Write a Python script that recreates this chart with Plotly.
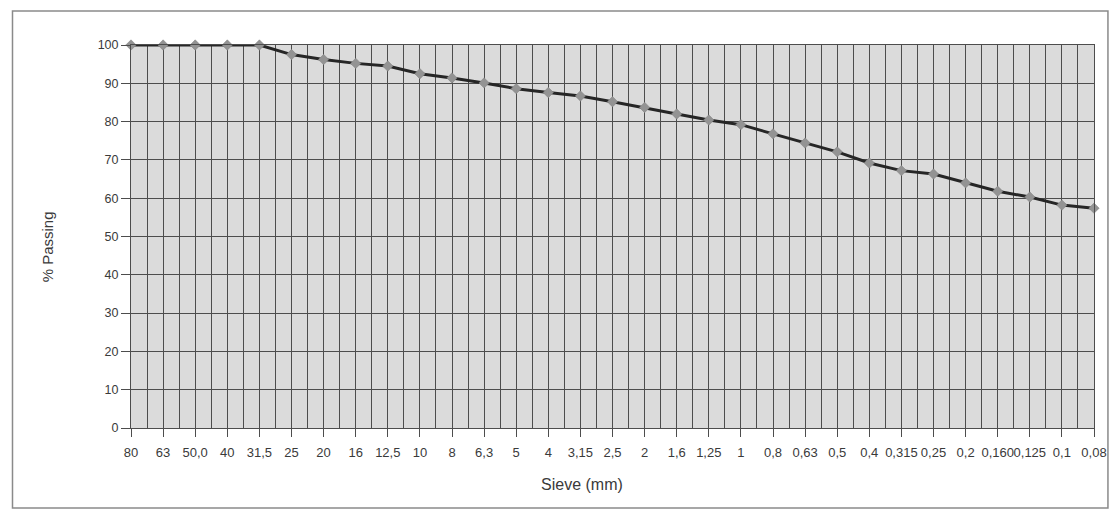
import plotly.graph_objects as go

# Sieve sizes (mm) and cumulative percent passing
sieves = ["80", "63", "50,0", "40", "31,5", "25", "20", "16", "12,5", "10", "8",
          "6,3", "5", "4", "3,15", "2,5", "2", "1,6", "1,25", "1", "0,8", "0,63",
          "0,5", "0,4", "0,315", "0,25", "0,2", "0,160", "0,125", "0,1", "0,08"]
passing = [100, 100, 100, 100, 100, 97.5, 96.2, 95.2, 94.5, 92.5, 91.4,
           90.1, 88.6, 87.6, 86.7, 85.2, 83.7, 82.0, 80.4, 79.2, 76.8, 74.4,
           72.1, 69.2, 67.2, 66.3, 64.0, 61.8, 60.3, 58.2, 57.4]
y_ticks = list(range(0, 101, 10))

W, H = 1119, 512
ML, MR, MT, MB = 131, 21, 45, 84
PW, PH = W - ML - MR, H - MT - MB

positions = list(range(len(sieves)))

def px_to_paper_x(px):
    return (px - ML) / PW

def px_to_paper_y(py):
    return (H - MB - py) / PH

fig = go.Figure()
fig.add_trace(go.Scatter(
    x=positions, y=passing, mode="lines+markers",
    line=dict(color="#262626", width=3),
    marker=dict(symbol="diamond", size=8, color="#939393",
                line=dict(color="#808080", width=0.5)),
    showlegend=False, cliponaxis=False,
))

grid_col = "#4d4d4d"
text_col = "#3a3a3a"

fig.update_layout(
    width=W, height=H,
    margin=dict(l=ML, r=MR, t=MT, b=MB),
    paper_bgcolor="white",
    plot_bgcolor="#dbdbdb",
    font=dict(family="Liberation Sans, Arial, sans-serif", color=text_col, size=12),
    xaxis=dict(
        range=[0, len(sieves) - 1],
        tickmode="array", tickvals=positions, ticktext=sieves, tickangle=0,
        ticks="outside", ticklen=8, tickcolor=grid_col, tickwidth=1,
        ticklabelstandoff=4,
        showgrid=True, gridcolor=grid_col, gridwidth=1,
        minor=dict(dtick=0.5, tick0=0, showgrid=True, gridcolor=grid_col,
                   gridwidth=1, ticklen=0),
        showline=True, linecolor=grid_col, linewidth=1, mirror=True,
        zeroline=False,
        tickfont=dict(size=13, color=text_col),
    ),
    yaxis=dict(
        range=[0, 100], tickmode="array", tickvals=y_ticks,
        ticks="outside", ticklen=9, tickcolor=grid_col, tickwidth=1,
        showgrid=True, gridcolor=grid_col, gridwidth=1,
        showline=True, linecolor=grid_col, linewidth=1, mirror=True,
        zeroline=False,
        tickfont=dict(size=12.5, color=text_col),
    ),
    annotations=[
        dict(text="Sieve (mm)", xref="paper", yref="paper",
             x=px_to_paper_x(584), y=px_to_paper_y(484),
             xanchor="center", yanchor="middle", showarrow=False,
             font=dict(size=16, color=text_col)),
        dict(text="% Passing", xref="paper", yref="paper",
             x=px_to_paper_x(47), y=px_to_paper_y(247), textangle=-90,
             xanchor="center", yanchor="middle", showarrow=False,
             font=dict(size=15, color=text_col)),
    ],
    shapes=[
        dict(type="rect", xref="paper", yref="paper", layer="below",
             x0=px_to_paper_x(12), x1=px_to_paper_x(1112),
             y0=px_to_paper_y(11), y1=px_to_paper_y(508),
             line=dict(color="#8a8a8a", width=1.5)),
    ],
)

fig.write_html("out.html")
